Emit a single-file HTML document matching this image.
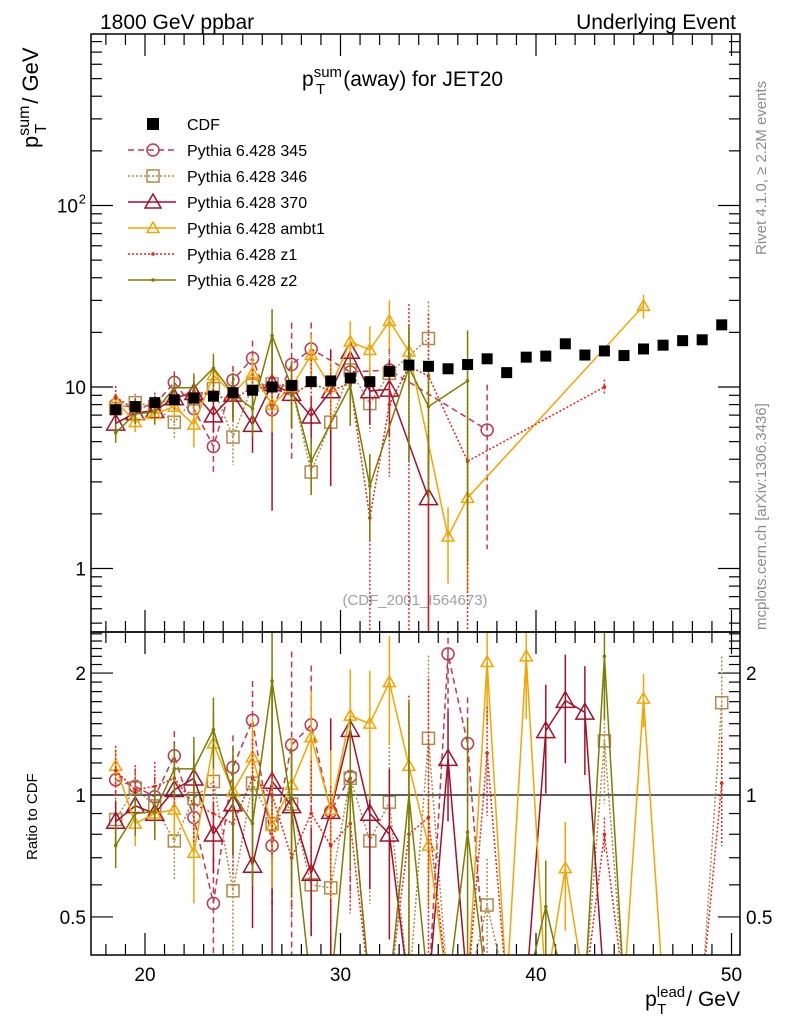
<!DOCTYPE html>
<html><head><meta charset="utf-8"><style>
html,body{margin:0;padding:0;background:#fff;overflow:hidden;width:786px;height:1024px;}
svg{display:block;font-family:"Liberation Sans",sans-serif;}
</style></head><body>
<svg id="chart" width="786" height="1024" viewBox="0 0 786 1024" xmlns="http://www.w3.org/2000/svg" overflow="hidden">
<defs>
<clipPath id="cm"><rect x="91" y="34" width="649" height="598"/></clipPath>
<clipPath id="cr"><rect x="91" y="632" width="649" height="323"/></clipPath>
</defs>
<text x="100" y="29" font-size="21">1800 GeV ppbar</text>
<text x="736" y="29" font-size="21" text-anchor="end">Underlying Event</text>
<text x="302" y="86" font-size="21">p<tspan font-size="15" dy="-9">sum</tspan><tspan font-size="15" dx="-26" dy="17">T</tspan><tspan dy="-8" dx="18">(away) for JET20</tspan></text>
<text transform="translate(38,148) rotate(-90)" font-size="22">p<tspan font-size="16" dy="-9">sum</tspan><tspan font-size="16" dx="-28" dy="17">T</tspan><tspan dy="-8" dx="20">/ GeV</tspan></text>
<text transform="translate(37,860) rotate(-90)" font-size="15">Ratio to CDF</text>
<text x="740" y="1006" font-size="21" text-anchor="end">p<tspan font-size="15" dy="-9">lead</tspan><tspan font-size="15" dx="-28" dy="17">T</tspan><tspan dy="-8" dx="20">/ GeV</tspan></text>
<text transform="translate(766,255) rotate(-90)" font-size="15" fill="#8c8c8c">Rivet 4.1.0, ≥ 2.2M events</text>
<text transform="translate(766,630) rotate(-90)" font-size="15" fill="#8c8c8c">mcplots.cern.ch [arXiv:1306.3436]</text>
<text x="415" y="605" font-size="15" fill="#a0a0a0" text-anchor="middle">(CDF_2001_I564673)</text>
<g id="axes"></g>
<g id="mainData" clip-path="url(#cm)"></g>
<g id="ratioData" clip-path="url(#cr)"></g>
<g id="legend"></g>
<rect x="91" y="34" width="649" height="598" fill="none" stroke="#000" stroke-width="1.5"/>
<rect x="91" y="632" width="649" height="323" fill="none" stroke="#000" stroke-width="1.5"/>
</svg>
<script>
const N = null;
const bins = [18.5,19.5,20.5,21.5,22.5,23.5,24.5,25.5,26.5,27.5,28.5,29.5,30.5,31.5,32.5,33.5,34.5,35.5,36.5,37.5,38.5,39.5,40.5,41.5,42.5,43.5,44.5,45.5,46.5,47.5,48.5,49.5];
const cdf = [7.5,7.8,8.2,8.5,8.7,8.9,9.3,9.6,10.0,10.2,10.7,10.8,11.2,10.7,12.2,13.2,13.0,12.6,13.3,14.3,12.0,14.6,14.8,17.3,15.0,15.8,14.9,16.2,17.0,18.0,18.2,22.0];
const p345 = [8.0,7.7,8.0,10.6,7.6,4.7,10.9,14.4,7.5,13.3,16.2,N,12.1,N,12.4,N,N,N,N,5.8,N,N,N,N,N,N,N,N,N,N,N,N];
const e345 = [.12,.1,.12,.15,.15,.3,.2,.25,.3,.7,.4,N,.5,N,.5,N,N,N,N,.78,N,N,N,N,N,N,N,N,N,N,N,N];
const p346 = [7.6,8.2,7.8,6.4,8.6,9.8,5.3,10.2,10.4,10.0,3.4,6.4,12.4,8.1,11.9,N,18.5,N,N,N,N,N,N,N,N,N,N,N,N,N,N,N];
const e346 = [.12,.12,.1,.2,.15,.15,.3,.2,.2,.3,.25,.4,.3,.3,.4,N,.6,N,N,N,N,N,N,N,N,N,N,N,N,N,N,N];
const p370 = [6.3,7.2,7.4,8.7,9.3,7.0,9.1,6.2,10.4,9.2,6.9,9.5,15.7,9.5,9.7,N,2.45,N,N,N,N,N,N,N,N,N,N,N,N,N,N,N];
const e370 = [.12,.1,.12,.12,.15,.2,.25,.3,.8,.35,.3,.7,.3,.35,.45,N,1.2,N,N,N,N,N,N,N,N,N,N,N,N,N,N,N];
const pambt1 = [8.4,6.4,7.1,7.8,6.2,11.6,9.2,11.9,8.0,10.0,15.0,10.0,17.8,16.0,23.1,15.7,N,1.5,2.45,N,N,N,N,N,N,N,N,28,N,N,N,N];
const eambt1 = [.1,.12,.12,.15,.25,.2,.2,.25,.3,.3,.3,.4,.3,.35,.3,.4,N,.45,.7,N,N,N,N,N,N,N,N,.15,N,N,N,N];
const pz1 = [8.8,7.5,8.1,8.6,9.5,9.0,8.5,10.0,9.8,9.0,10.5,9.5,10.5,1.9,8.0,13.0,11.5,N,3.9,N,N,N,N,N,N,10.0,N,N,N,N,N,N];
const ez1 = [.15,.15,.15,.15,.2,.2,.25,.25,.3,.3,.35,.4,.4,1.2,.6,1.2,1.2,N,1.2,N,N,N,N,N,N,.1,N,N,N,N,N,N];
const pz2 = [5.6,7.1,7.3,9.9,9.9,12.7,9.2,7.6,19.2,10.0,3.9,N,10.2,2.85,N,12.8,7.8,N,10.8,N,N,N,N,N,N,N,N,N,N,N,N,N];
const ez2 = [.12,.12,.15,.15,.2,.2,.3,.3,.4,.4,.35,N,.4,.5,N,.7,.7,N,.9,N,N,N,N,N,N,N,N,N,N,N,N,N];
const r345 = [1.09,1.05,0.99,1.25,0.88,0.54,1.17,1.53,0.75,1.33,1.49,0.91,1.11,0,0,0,0,2.23,1.34,0,N,N,N,N,N,N,N,N,N,N,N,N];
const r346 = [0.87,1.04,0.94,0.77,0.98,1.08,0.58,1.07,0.85,0.95,0.6,0.59,1.10,0.77,0.96,0,1.38,0,0,0.535,0,0,0,0,0,1.36,0,0,0,0,0,1.69];
const r370 = [0.86,0.94,0.90,1.03,1.10,0.80,0.95,0.67,1.08,0.94,0.64,0.91,1.45,0.90,0.80,0,0,1.23,0,0,0,0,1.44,1.71,1.60,0,N,N,N,N,N,N];
const rambt1 = [1.18,0.85,0.90,0.92,0.72,1.34,1.02,1.24,0.84,1.06,1.39,0.92,1.57,1.50,1.90,1.18,0.75,0,0,2.13,0,2.2,0,0.66,0,0,0,1.73,0,N,N,N];
const rz1 = [1.15,1.03,1.05,1.1,0.95,0.9,0.85,1.1,1.0,0.7,0.9,0.75,0.85,0,0,0.8,0.88,0,0,1.27,0,0,0,0,0,0.8,0,0,0,0,0,1.07];
const rz2 = [0.75,0.90,0.91,1.16,1.16,1.45,1.01,0.85,1.91,0.93,0,0,1.1,0,0,1.0,0,0,0.81,0,0,0,0.53,0,0,2.2,0,N,N,N,N,N];
const xTicks = ["20","30","40","50"];
const ratioTicks = ["0.5","1","2"];

const NS = "http://www.w3.org/2000/svg";
function X(v){return 145+(v-20)*19.55;}
function YM(v){return v<=0?990:Math.min(990,387-181.5*Math.log10(v/10));}
function YR(r){return r<=0?990:Math.min(990,795-405*Math.log10(r));}
function mk(tag,attrs,parent){const e=document.createElementNS(NS,tag);for(const k in attrs)e.setAttribute(k,attrs[k]);parent.appendChild(e);return e;}

const axes=document.getElementById('axes');
for(let v=18;v<=50;v++){
  const x=X(v), major=(v%10===0), L=major?22:11;
  [[632,-1],[34,1],[955,-1],[632,1]].forEach(([y0,d])=>{
    const t=mk('line',{x1:x,x2:x,y1:y0,y2:y0+d*L,stroke:'#000','stroke-width':1.2},axes);
    
    
  });
}
xTicks.forEach(s=>{
  const t=mk('text',{x:X(+s),y:981,'font-size':19,'text-anchor':'middle'},axes);t.textContent=s;
  
  
});
for(let d=-1;d<=2;d++){for(let m=1;m<=9;m++){
  const v=m*Math.pow(10,d);const y=YM(v);if(y<34||y>632)continue;
  const L=m===1?22:11;
  [[91,1],[740,-1]].forEach(([x0,s])=>{
    const t=mk('line',{x1:x0,x2:x0+s*L,y1:y,y2:y,stroke:'#000','stroke-width':1.2},axes);
    
    
  });
}}
[[100,'10','2'],[10,'10',''],[1,'1','']].forEach(([v,s,sup])=>{
  const t=mk('text',{x:sup?78:86,y:YM(v)+7,'font-size':19,'text-anchor':'end'},axes);t.textContent=s;
  
  
  if(sup){const u=mk('text',{x:86,y:YM(v)-2,'font-size':13,'text-anchor':'end'},axes);u.textContent=sup;
    
    }
});
for(let i=4;i<=25;i++){
  const r=i/10;const y=YR(r);if(y<632||y>955)continue;
  const major=(i===5||i===10||i===20);const L=major?22:11;
  [[91,1],[740,-1]].forEach(([x0,s])=>{
    const t=mk('line',{x1:x0,x2:x0+s*L,y1:y,y2:y,stroke:'#000','stroke-width':1.2},axes);
    
    
  });
}
ratioTicks.forEach(s=>{
  [[86,'end'],[746,'start']].forEach(([x,a])=>{
    const t=mk('text',{x:x,y:YR(+s)+7,'font-size':19,'text-anchor':a},axes);t.textContent=s;
    
    
  });
});
const ref=mk('line',{x1:91,x2:740,y1:YR(1),y2:YR(1),stroke:'#000','stroke-width':1.3},axes);



const series=[
 {name:'345',vals:p345,errs:e345,rat:r345,color:'#c0394f',dash:'6,4',marker:'circle',ms:6},
 {name:'346',vals:p346,errs:e346,rat:r346,color:'#b08a4a',dash:'2,2',marker:'square',ms:6},
 {name:'370',vals:p370,errs:e370,rat:r370,color:'#a3102a',dash:'',marker:'tri',ms:9},
 {name:'ambt1',vals:pambt1,errs:eambt1,rat:rambt1,color:'#f5a500',dash:'',marker:'tri',ms:6},
 {name:'z1',vals:pz1,errs:ez1,rat:rz1,color:'#e8251b',dash:'2,2',marker:'dot',ms:1.8},
 {name:'z2',vals:pz2,errs:ez2,rat:rz2,color:'#7d7d00',dash:'',marker:'dot',ms:1.8}
];
function marker(g,type,x,y,s,c){
  let e;
  if(type==='circle')e=mk('circle',{cx:x,cy:y,r:s,fill:'none',stroke:c,'stroke-width':1.5},g);
  else if(type==='square')e=mk('rect',{x:x-s,y:y-s,width:2*s,height:2*s,fill:'none',stroke:c,'stroke-width':1.5},g);
  else if(type==='tri')e=mk('polygon',{points:`${x},${y-s} ${x-s},${y+s*0.75} ${x+s},${y+s*0.75}`,fill:'none',stroke:c,'stroke-width':1.5},g);
  else e=mk('circle',{cx:x,cy:y,r:s,fill:c},g);
  return e;
}
const mainG=document.getElementById('mainData'), ratG=document.getElementById('ratioData');
series.forEach(s=>{
  const g=mk('g',{},mainG);
  
  
  let pts=[];
  s.vals.forEach((v,i)=>{if(v===null)return;pts.push([X(bins[i]),YM(v)]);
    const e=s.errs[i]||0.2;const hi=v*(1+e),lo=v*(1-e);
    const eb=mk('line',{x1:X(bins[i]),x2:X(bins[i]),y1:YM(hi),y2:YM(lo),stroke:s.color,'stroke-width':1.5,'stroke-dasharray':s.dash},g);
    
    
  });
  const pl=mk('polyline',{points:pts.map(p=>p.join(',')).join(' '),fill:'none',stroke:s.color,'stroke-width':1.5,'stroke-dasharray':s.dash},g);
  
  
  s.vals.forEach((v,i)=>{if(v===null)return;const m=marker(g,s.marker,X(bins[i]),YM(v),s.ms,s.color);
    
    });
  const gr=mk('g',{},ratG);
  
  
  let rp=[];
  s.rat.forEach((r,i)=>{if(r===null)return;rp.push([X(bins[i]),YR(r)]);
    if(r>0){const e=(s.errs[i]||0.3);
      const eb=mk('line',{x1:X(bins[i]),x2:X(bins[i]),y1:YR(r*(1+e)),y2:YR(r*(1-e)),stroke:s.color,'stroke-width':1.5,'stroke-dasharray':s.dash},gr);
      
      }
  });
  const rl=mk('polyline',{points:rp.map(p=>p.join(',')).join(' '),fill:'none',stroke:s.color,'stroke-width':1.5,'stroke-dasharray':s.dash},gr);
  
  
  s.rat.forEach((r,i)=>{if(r===null||r<=0)return;const m=marker(gr,s.marker,X(bins[i]),YR(r),s.ms,s.color);
    
    });
});
const cg=mk('g',{},mainG);


cdf.forEach((v,i)=>{const r=mk('rect',{x:X(bins[i])-5.5,y:YM(v)-5.5,width:11,height:11,fill:'#000'},cg);
  
  });
const lg=document.getElementById('legend');
const labels=['CDF','Pythia 6.428 345','Pythia 6.428 346','Pythia 6.428 370','Pythia 6.428 ambt1','Pythia 6.428 z1','Pythia 6.428 z2'];
labels.forEach((lab,i)=>{
  const y=124+i*26;
  const g=mk('g',{},lg);
  
  
  if(i===0){mk('rect',{x:147,y:y-6,width:12,height:12,fill:'#000'},g);}
  else{const s=series[i-1];
    mk('line',{x1:128,x2:176,y1:y,y2:y,stroke:s.color,'stroke-width':1.5,'stroke-dasharray':s.dash},g);
    marker(g,s.marker,153,y,s.marker==='dot'?1.8:(s.name==='370'?8:6),s.color);}
  const t=mk('text',{x:187,y:y+6,'font-size':16},g);t.textContent=lab;
});
</script>
</body></html>
